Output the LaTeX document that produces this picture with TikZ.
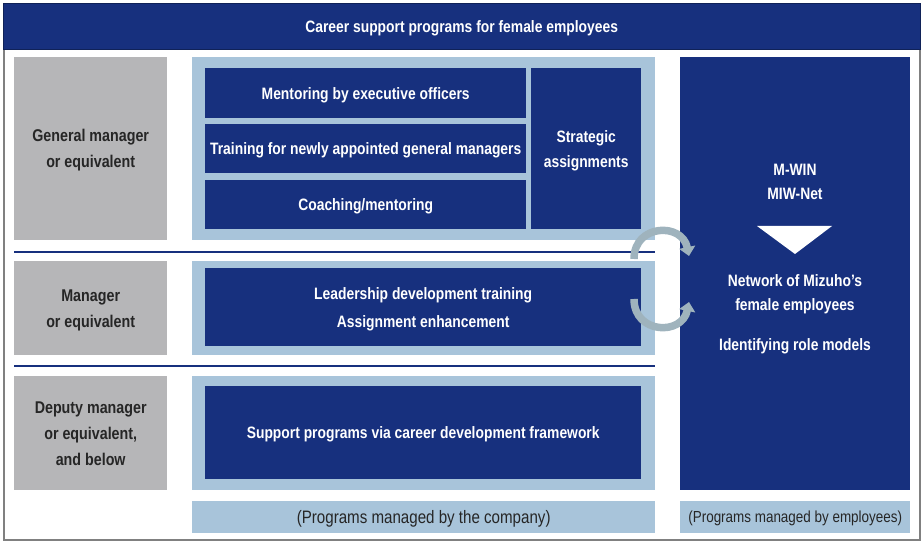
\documentclass[tikz,border=0pt]{standalone}
\usepackage{fontspec}
\setmainfont{Liberation Sans}[FakeStretch=0.84]
\usetikzlibrary{arrows.meta}
\definecolor{mizblue}{HTML}{17307E}
\definecolor{lightpanel}{HTML}{A8C4DA}
\definecolor{levelgray}{HTML}{B6B6B8}
\definecolor{levelText}{HTML}{262626}
\definecolor{cyclearrow}{HTML}{9FB3BD}
\tikzset{
  dbox/.style={fill=mizblue, text=white, inner sep=0pt, anchor=north west, text depth=0pt,
    align=center, font=\fontsize{16.5}{25}\selectfont\bfseries},
  lbox/.style={fill=lightpanel, inner sep=0pt, anchor=north west},
  gbox/.style={fill=levelgray, text=levelText, inner sep=0pt, anchor=north west, text depth=0pt,
    align=center, font=\fontsize{17}{26}\selectfont\bfseries},
  tag/.style={fill=lightpanel, text=black!85, inner sep=0pt, anchor=north west, text depth=0pt,
    font=\fontsize{18}{20}\selectfont},
  wtext/.style={text=white, align=center, font=\fontsize{16.5}{24}\selectfont\bfseries},
  cycle/.style={line width=7.5pt, draw=cyclearrow, -{Triangle[length=9pt,width=16pt]}}
}
\begin{document}
\begin{tikzpicture}[x=1pt,y=-1pt]
\useasboundingbox (0,0) rectangle (924,545);
% frame and heading
\draw[gray, line width=1.5pt] (4,49) -- (4,540) -- (920,540) -- (920,49);
\node[dbox, draw=mizblue!70!black, minimum width=917pt, minimum height=46pt] (title) at (3,3)
  {Career support programs for female employees};

% levels
\node[gbox, minimum width=153pt, minimum height=183pt] (gm) at (14,57) {General manager\\or equivalent};
\node[gbox, minimum width=153pt, minimum height=94pt] (mgr) at (14,261) {Manager\\or equivalent};
\node[gbox, minimum width=153pt, minimum height=114pt] (dep) at (14,376) {Deputy manager\\or equivalent,\\and below};
\foreach \y in {252,366}
  \draw[mizblue, line width=2pt] (14,\y) -- (655,\y);

% company programs
\node[lbox, minimum width=463pt, minimum height=183pt] (pgm) at (192,57) {};
\node[lbox, minimum width=463pt, minimum height=94pt] (pmgr) at (192,261) {};
\node[lbox, minimum width=463pt, minimum height=114pt] (pdep) at (192,376) {};
\node[dbox, minimum width=321pt, minimum height=50pt] (mentor) at (205,68) {Mentoring by executive officers};
\node[dbox, minimum width=321pt, minimum height=49pt] (train) at (205,124) {Training for newly appointed general managers};
\node[dbox, minimum width=321pt, minimum height=49pt] (coach) at (205,180) {Coaching/mentoring};
\node[dbox, minimum width=110pt, minimum height=161pt] (strat) at (531,68) {Strategic\\assignments};
\node[dbox, minimum width=436pt, minimum height=78pt, font=\fontsize{16.5}{28}\selectfont\bfseries] (lead) at (205,268)
  {Leadership development training\\Assignment enhancement};
\node[dbox, minimum width=436pt, minimum height=93pt] (career) at (205,386)
  {Support programs via career development framework};

% employee network
\node[dbox, minimum width=230pt, minimum height=433pt] (net) at (680,57) {};
\node[wtext] (mwin) at (795,182) {M-WIN\\MIW-Net};
\fill[white] (757,226) -- (832,226) -- (795,254) -- cycle;
\node[wtext] (mizuho) at (795,294) {Network of Mizuho’s\\female employees};
\node[wtext] (roles) at (795,346) {Identifying role models};

% two-way arrows
\coordinate (upA) at (634,259);
\coordinate (upB) at (689,256);
\coordinate (loA) at (634,299);
\coordinate (loB) at (689,302);
\draw[cycle] (upA) .. controls (634,224) and (682,222) .. (upB);
\draw[cycle] (loA) .. controls (634,334) and (682,336) .. (loB);

% labels
\node[tag, minimum width=463pt, minimum height=32pt] (company) at (192,501) {(Programs managed by the company)};
\node[tag, minimum width=230pt, minimum height=32pt, font=\fontsize{16}{18}\selectfont] (staff) at (680,501)
  {(Programs managed by employees)};
\end{tikzpicture}
\end{document}
